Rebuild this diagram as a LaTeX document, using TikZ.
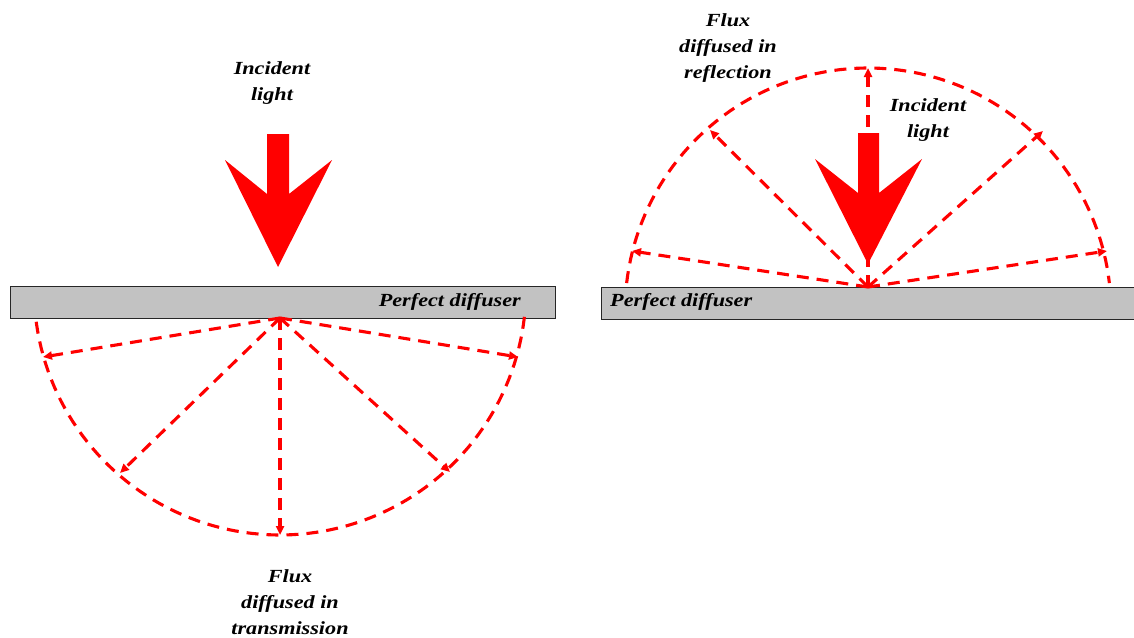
\documentclass[tikz,border=0pt]{standalone}
\usepackage{fontspec}
\newfontfamily\lab[FakeStretch=1.2]{Liberation Serif}
\usetikzlibrary{arrows.meta}
\begin{document}
\begin{tikzpicture}[x=1pt,y=-1pt,
  ray/.style={draw=red, line width=3.1pt, dash pattern=on 12pt off 8pt, -{Triangle[length=9pt,width=8pt]}},
  rim/.style={draw=red, line width=3.1pt, dash pattern=on 12pt off 8pt},
  plate/.style={draw=black!85, line width=1pt, fill=black!24},
  lbl/.style={font=\lab\bfseries\itshape\fontsize{18.5}{26}\selectfont, align=center, text=black, inner sep=0pt},
  bigarrow/.style={fill=red, draw=none}]
\useasboundingbox (0,0) rectangle (1134,637);
\clip (0,0) rectangle (1134,637);

% ---------- left: transmission ----------
\draw[plate] (10,286) rectangle (555,318);
\node[lbl, anchor=east] (pdL) at (521,302) {Perfect diffuser};
\coordinate (sL) at (280,318);
\coordinate (tL1) at (43,357);
\coordinate (tL2) at (120,473);
\coordinate (tL3) at (280,535);
\coordinate (tL4) at (450,472);
\coordinate (tL5) at (518,357);
\draw[rim] plot[domain=6.5:173.5, samples=90] ({280+246*cos(\x)}, {289+246*sin(\x)});
\foreach \t in {tL1,tL2,tL3,tL4,tL5} \draw[ray] (sL) -- (\t);
\fill[bigarrow] (267,134) -- (289,134) -- (289,194) -- (332,160) -- (278,267)
  -- (225,160) -- (267,194) -- cycle;
\node[lbl] (incL) at (272,83) {Incident\\light};
\node[lbl] (fluxT) at (290,602) {Flux\\diffused in\\transmission};

% ---------- right: reflection ----------
\draw[plate] (601,287) rectangle (1140,319);
\node[lbl, anchor=west] (pdR) at (610,302) {Perfect diffuser};
\coordinate (sR) at (868,287);
\coordinate (tR1) at (632,251);
\coordinate (tR2) at (710,130);
\coordinate (tR3) at (868,68);
\coordinate (tR4) at (1043,131);
\coordinate (tR5) at (1107,251);
\draw[rim] plot[domain=186.6:353.4, samples=90] ({868+243*cos(\x)}, {311+243*sin(\x)});
\foreach \t in {tR1,tR2,tR3,tR4,tR5} \draw[ray] (sR) -- (\t);
\fill[bigarrow] (858,133) -- (879,133) -- (879,193) -- (922,159) -- (868,264)
  -- (815,159) -- (858,193) -- cycle;
\node[lbl] (incR) at (928,120) {Incident\\light};
\node[lbl] (fluxR) at (728,48) {Flux\\diffused in\\reflection};
\end{tikzpicture}
\end{document}
